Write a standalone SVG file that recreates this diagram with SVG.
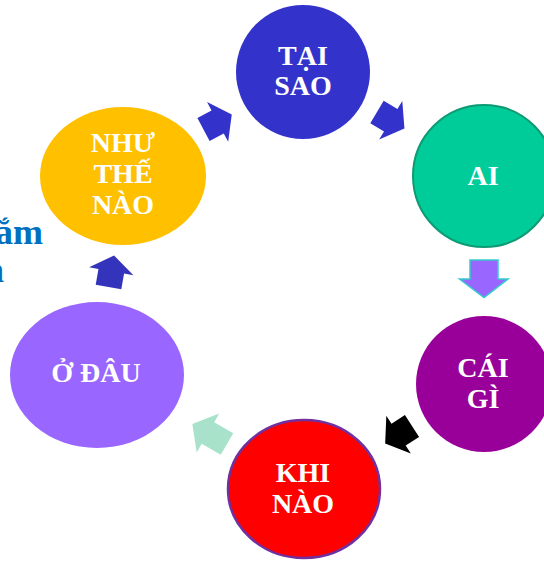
<svg xmlns="http://www.w3.org/2000/svg" width="544" height="561" viewBox="0 0 544 561">
<style>
.lbl{font-family:"Liberation Serif","Times New Roman",serif;font-weight:bold;font-size:28px;fill:#fff;text-anchor:middle}
.side{font-family:"Liberation Serif","Times New Roman",serif;font-weight:bold;font-size:36px;fill:#0070C0;text-anchor:end}
</style>
<defs>
<polygon id="arr" points="0,-13 16,-13 16,-22.5 32,0 16,22.5 16,13 0,13"/>
<polygon id="arrlong" points="0,-12.5 22,-12.5 22,-22.5 40,0 22,22.5 22,12.5 0,12.5"/>
</defs>
<rect width="544" height="561" fill="#fff"/>
<text class="side" x="43" y="244">ắm</text>
<text class="side" x="4" y="282">n</text>
<g id="taisao">
<ellipse cx="303" cy="72" rx="67" ry="67" fill="#3333CC"/>
<text class="lbl" x="303" y="65">TẠI</text>
<text class="lbl" x="303" y="95">SAO</text>
</g>
<g id="ai">
<ellipse cx="484" cy="176" rx="71" ry="71" fill="#00CC99" stroke="#0E9A74" stroke-width="2"/>
<text class="lbl" x="483" y="185">AI</text>
</g>
<g id="caigi">
<ellipse cx="484" cy="384" rx="68" ry="68" fill="#990099"/>
<text class="lbl" x="483" y="377">CÁI</text>
<text class="lbl" x="483" y="408">GÌ</text>
</g>
<g id="khinao">
<ellipse cx="304" cy="489" rx="76" ry="69" fill="#FF0000" stroke="#7030A0" stroke-width="2.5"/>
<text class="lbl" x="303" y="482">KHI</text>
<text class="lbl" x="303" y="513">NÀO</text>
</g>
<g id="odau">
<ellipse cx="97" cy="375" rx="87" ry="73" fill="#9966FF"/>
<text class="lbl" x="96" y="382">Ở ĐÂU</text>
</g>
<g id="nhuthenao">
<ellipse cx="123" cy="176" rx="83" ry="69" fill="#FFC000"/>
<text class="lbl" x="123" y="152">NHƯ</text>
<text class="lbl" x="123" y="183">THẾ</text>
<text class="lbl" x="123" y="214">NÀO</text>
</g>
<g id="connectors">
<use href="#arr" transform="translate(203.5,129.5) rotate(-28)" fill="#3333CC"/>
<use href="#arr" transform="translate(377,112) rotate(31)" fill="#3333CC"/>
<polygon points="470,260 498,260 498,279 508,279 484,297.5 459.5,279 470,279" fill="#9966FF" stroke="#33CCCC" stroke-width="1.5"/>
<use href="#arr" transform="translate(412,426) rotate(147)" fill="#000"/>
<use href="#arrlong" transform="translate(227,444) rotate(-150)" fill="#A8E2CB"/>
<use href="#arr" transform="translate(108.5,287) rotate(-80)" fill="#3333BB"/>
</g>
</svg>
